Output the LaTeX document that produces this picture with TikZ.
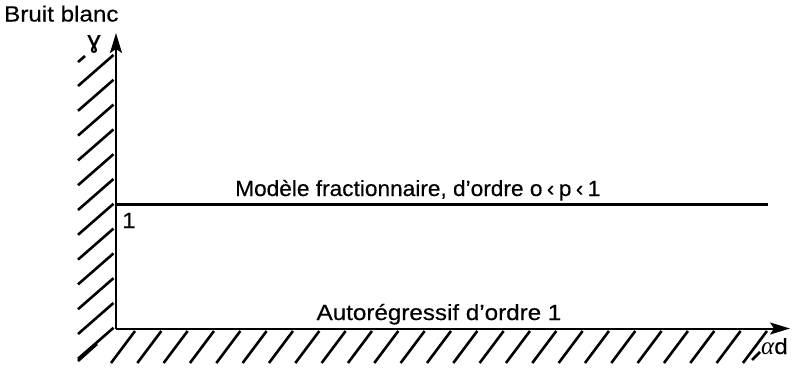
\documentclass[tikz,border=0pt]{standalone}
\usepackage{fontspec}
\setmainfont{Liberation Sans}[FakeStretch=1.1,FakeBold=0.4]
\newfontfamily\narrowfont{Liberation Sans}[FakeStretch=1.03,FakeBold=0.4]
\newfontfamily\grkfont{Liberation Serif}
\usetikzlibrary{arrows.meta}
\newcommand{\ltsp}{\hspace{0.2em}}
\begin{document}
\begin{tikzpicture}[x=1pt,y=-1pt,
  axis/.style={line width=2pt,-{Stealth[length=20pt,width=12pt,inset=4pt]}},
  hatch/.style={line width=2.6pt},
  level/.style={line width=2.6pt},
  lbl/.style={inner sep=0pt,font=\fontsize{22}{24}\selectfont}]
\useasboundingbox (0,0) rectangle (802,367);

% axes and the horizontal level line
\coordinate (O) at (116,328.5);
\coordinate (ytip) at (116,33);
\coordinate (xtip) at (790,328.5);
\coordinate (L0) at (116,204.5);
\coordinate (L1) at (768,204.5);
\draw[axis] (O) -- (ytip);
\draw[axis] (O) -- (xtip);
\draw[level] (L0) -- (L1);

% hatching along the vertical axis
\foreach \k in {0,...,11}{
  \draw[hatch] (78,{55+24.8*\k+31}) -- (113.5,{55+24.8*\k});
}
\draw[hatch] (78,62) -- (85,56);
\draw[hatch] (78,361) -- (97,344);

% hatching under the horizontal axis
\foreach \k in {0,...,24}{
  \draw[hatch] ({135+26.33*\k-24},363) -- ({135+26.33*\k},331);
}
\draw[hatch] (752,360) -- (760,352);

% labels
\node[lbl,anchor=base west] (bb) at (4,21.5) {Bruit blanc};
\node[inner sep=0pt,font=\fontsize{24}{26}\selectfont] (gam) at (94,44) {ɣ};
\node[lbl,anchor=base west] (one) at (122,228) {1};
\node[lbl,anchor=base west] (frac) at (235,196) {\narrowfont Modèle fractionnaire, d’ordre o\ltsp‹\ltsp p\ltsp‹\ltsp 1};
\node[lbl,anchor=base] (ar) at (439,320) {Autorégressif d’ordre 1};
\node[lbl,anchor=base west] (ad) at (761,354) {{\grkfont\itshape\fontsize{25}{26}\selectfont α}d};
\end{tikzpicture}
\end{document}
